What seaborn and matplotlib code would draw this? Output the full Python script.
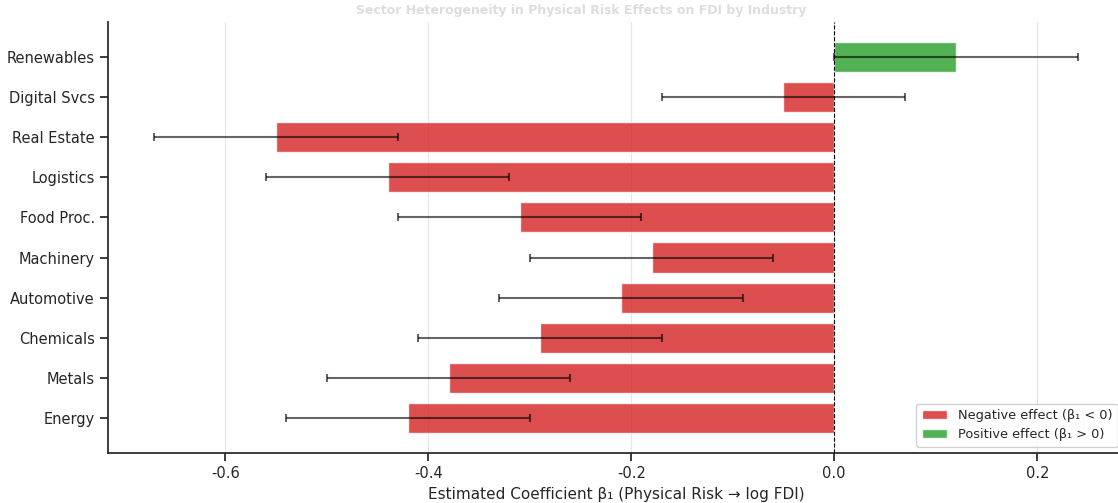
import numpy as np
import pandas as pd
import matplotlib
matplotlib.use("Agg")
import matplotlib.pyplot as plt
import seaborn as sns

# Sector-level estimates of the physical-risk coefficient (top to bottom)
sectors = ["Renewables", "Digital Svcs", "Real Estate", "Logistics", "Food Proc.",
           "Machinery", "Automotive", "Chemicals", "Metals", "Energy"]
coefs = [0.12, -0.05, -0.55, -0.44, -0.31, -0.18, -0.21, -0.29, -0.38, -0.42]
ci_half = [0.12, 0.12, 0.12, 0.12, 0.12, 0.12, 0.12, 0.12, 0.12, 0.12]
xticks = [-0.6, -0.4, -0.2, 0.0, 0.2]

neg_label = "Negative effect (β₁ < 0)"
pos_label = "Positive effect (β₁ > 0)"
palette = {neg_label: "#d62728", pos_label: "#2ca02c"}

df = pd.DataFrame({
    "sector": sectors,
    "coef": coefs,
    "ci": ci_half,
})
df["effect"] = np.where(df["coef"] < 0, neg_label, pos_label)

sns.set_theme(style="ticks")
plt.rcParams["font.family"] = ["DejaVu Sans"]

fig = plt.figure(figsize=(11.18, 5.03), dpi=100)
ax = fig.add_axes([0.0966, 0.0994, 0.9088, 0.857])

sns.barplot(data=df, y="sector", x="coef", hue="effect", palette=palette,
            hue_order=[neg_label, pos_label], order=sectors, orient="h",
            dodge=False, width=0.75, alpha=0.82, saturation=1, ax=ax)

ypos = np.arange(len(sectors))
ax.errorbar(df["coef"], ypos, xerr=df["ci"], fmt="none", ecolor="black",
            elinewidth=1.5, capsize=3, capthick=1.5, alpha=0.6, zorder=3)

ax.axvline(0, color="black", linestyle="--", linewidth=0.8, zorder=4)

lo = min(c - e for c, e in zip(coefs, ci_half))
hi = max(c + e for c, e in zip(coefs, ci_half))
pad = 0.05 * (hi - lo)
ax.set_xlim(lo - pad, hi + pad)
ax.set_ylim(len(sectors) - 1 + 0.375 + 0.4875, -0.375 - 0.4875)

ax.set_xticks(xticks)
ax.set_xticklabels([f"{t:.1f}" for t in xticks], fontsize=10.5)
ax.tick_params(axis="y", labelsize=10.5)
ax.grid(axis="x", color="#cccccc", alpha=0.5, linewidth=0.8)
ax.set_axisbelow(True)
ax.set_ylabel("")
ax.set_xlabel("Estimated Coefficient β₁ (Physical Risk → log FDI)", fontsize=11)
sns.despine(ax=ax)

ax.legend(loc="lower right", fontsize=9.3, frameon=True, framealpha=0.9,
          edgecolor="#cccccc", title=None)

fig.text(0.52, 1.0 - 17 / 503, "Sector Heterogeneity in Physical Risk Effects on FDI by Industry",
         ha="center", va="bottom", fontsize=9, fontweight="bold", color="#dddddd")

fig.savefig("out.png", dpi=100)
